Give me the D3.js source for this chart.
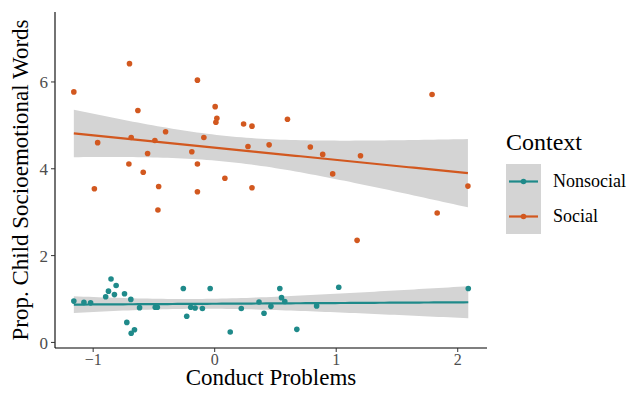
<!DOCTYPE html>
<html>
<head>
<meta charset="utf-8">
<script src="https://cdn.jsdelivr.net/npm/d3@7"></script>
<style>
  body { margin: 0; background: #fff; }
  svg { display: block; font-family: "Liberation Serif", "DejaVu Serif", serif; }
</style>
</head>
<body>
<div id="chart"></div>
<script>
// Conduct Problems (x) vs Prop. Child Socioemotional Words (y)
const socialX = [-1.155, -0.697, -0.138, -0.628, 0.008, 0.022, 0.014, 0.242, 0.311, -0.40,
  -0.683, -0.085, -0.959, -0.488, -0.548, -0.184, 0.278, 0.452, -0.702, -0.138,
  -0.584, 0.088, -0.986, -0.457, -0.138, 0.311, -0.463, 1.793, 0.603, 0.791,
  0.893, 1.204, 0.975, 2.088, 1.835, 1.176]
const socialY = [5.76, 6.41, 6.03, 5.33, 5.42, 5.15, 5.06, 5.02, 4.97, 4.84,
  4.71, 4.71, 4.59, 4.64, 4.34, 4.38, 4.50, 4.54, 4.10, 4.10,
  3.91, 3.77, 3.53, 3.58, 3.46, 3.55, 3.04, 5.70, 5.13, 4.49,
  4.32, 4.29, 3.87, 3.59, 2.97, 2.34]

const nonsocialX = [-1.155, -1.072, -1.017, -0.849, -0.807, -0.870, -0.893, -0.821, -0.738, -0.686,
  -0.614, -0.719, -0.656, -0.683, -0.485, -0.468, -0.254, -0.033, -0.226, -0.193,
  -0.157, -0.097, 0.132, 0.223, 0.369, 0.41, 0.467, 0.54, 0.554, 0.581,
  0.68, 0.843, 1.025, 2.091]
const nonsocialY = [0.94, 0.91, 0.90, 1.45, 1.30, 1.17, 1.04, 1.09, 1.11, 0.98,
  0.79, 0.45, 0.28, 0.20, 0.80, 0.80, 1.23, 1.23, 0.59, 0.80,
  0.78, 0.77, 0.23, 0.77, 0.92, 0.66, 0.82, 1.23, 1.02, 0.93,
  0.29, 0.83, 1.26, 1.23]

const groups = ["Nonsocial", "Social"]
const groupColors = ["#1f8a8a", "#d2581f"]
const xTicks = [-1, 0, 1, 2]
const yTicks = [0, 2, 4, 6]

const width = 630
const height = 393
const marginLeft = 55
const marginRight = 143
const marginTop = 12
const marginBottom = 45

const series = [
  { name: groups[0], color: groupColors[0], pts: nonsocialX.map((x, i) => ({ x, y: nonsocialY[i] })) },
  { name: groups[1], color: groupColors[1], pts: socialX.map((x, i) => ({ x, y: socialY[i] })) },
]

// linear fit with 95% confidence band, like geom_smooth(method = "lm")
function lmBand(pts, steps) {
  const n = pts.length
  const mx = d3.mean(pts, d => d.x)
  const my = d3.mean(pts, d => d.y)
  const sxx = d3.sum(pts, d => (d.x - mx) ** 2)
  const sxy = d3.sum(pts, d => (d.x - mx) * (d.y - my))
  const b = sxy / sxx
  const a = my - b * mx
  const sse = d3.sum(pts, d => (d.y - a - b * d.x) ** 2)
  const s = Math.sqrt(sse / (n - 2))
  const t = 2.03
  const [x0, x1] = d3.extent(pts, d => d.x)
  return d3.range(steps + 1).map(i => {
    const x = x0 + (x1 - x0) * i / steps
    const fit = a + b * x
    const se = s * Math.sqrt(1 / n + (x - mx) ** 2 / sxx)
    return { x, fit, lo: fit - t * se, hi: fit + t * se }
  })
}

const x = d3.scaleLinear()
  .domain([-1.31, 2.245])
  .range([marginLeft, width - marginRight])

const y = d3.scaleLinear()
  .domain([-0.14, 7.6])
  .range([height - marginBottom, marginTop])

const svg = d3.select("#chart").append("svg")
  .attr("width", width)
  .attr("height", height)
  .attr("viewBox", [0, 0, width, height])

const bandFill = "#d4d4d4"

// ribbons first, then points, then lines
series.forEach(s => {
  s.band = lmBand(s.pts, 80)
  svg.append("path")
    .datum(s.band)
    .attr("fill", bandFill)
    .attr("d", d3.area().x(d => x(d.x)).y0(d => y(d.lo)).y1(d => y(d.hi)))
})

series.forEach(s => {
  svg.append("g")
    .attr("fill", s.color)
    .selectAll("circle")
    .data(s.pts)
    .join("circle")
    .attr("cx", d => x(d.x))
    .attr("cy", d => y(d.y))
    .attr("r", 2.8)
})

series.forEach(s => {
  svg.append("path")
    .datum(s.band)
    .attr("fill", "none")
    .attr("stroke", s.color)
    .attr("stroke-width", 2.2)
    .attr("d", d3.line().x(d => x(d.x)).y(d => y(d.fit)))
})

// axes
const xAxis = svg.append("g")
  .attr("transform", `translate(0,${height - marginBottom})`)
  .call(d3.axisBottom(x).tickValues(xTicks).tickSize(4).tickPadding(2).tickFormat(d3.format("d")))
xAxis.select(".domain").attr("d", `M${marginLeft},0H${width - marginRight}`).attr("stroke", "#000").attr("stroke-width", 1.1)
xAxis.selectAll(".tick line").attr("stroke", "#333")
xAxis.selectAll(".tick text").attr("fill", "#4d4d4d").attr("font-size", 16).style("font-family", "Liberation Serif")

const yAxis = svg.append("g")
  .attr("transform", `translate(${marginLeft},0)`)
  .call(d3.axisLeft(y).tickValues(yTicks).tickSize(4).tickPadding(3))
yAxis.select(".domain").attr("d", `M0,${marginTop}V${height - marginBottom}`).attr("stroke", "#000").attr("stroke-width", 1.1)
yAxis.selectAll(".tick line").attr("stroke", "#333")
yAxis.selectAll(".tick text").attr("fill", "#4d4d4d").attr("font-size", 17).style("font-family", "Liberation Serif")
yAxis.selectAll(".tick text").attr("dy", "0.36em")

svg.append("text")
  .attr("x", 271)
  .attr("y", 385)
  .attr("text-anchor", "middle")
  .attr("font-size", 23)
  .text("Conduct Problems")

svg.append("text")
  .attr("transform", `translate(28,${(marginTop + height - marginBottom) / 2}) rotate(-90)`)
  .attr("text-anchor", "middle")
  .attr("font-size", 23)
  .text("Prop. Child Socioemotional Words")

// legend
const legend = svg.append("g").attr("transform", "translate(506,128)")
legend.append("text")
  .attr("x", 0)
  .attr("y", 22)
  .attr("font-size", 24)
  .text("Context")

groups.forEach((g, i) => {
  const row = legend.append("g").attr("transform", `translate(0,${36 + i * 35})`)
  row.append("rect").attr("width", 35).attr("height", 35).attr("fill", bandFill)
  row.append("line")
    .attr("x1", 3).attr("x2", 32).attr("y1", 17.5).attr("y2", 17.5)
    .attr("stroke", groupColors[i]).attr("stroke-width", 2.2)
  row.append("circle").attr("cx", 17.5).attr("cy", 17.5).attr("r", 2.8).attr("fill", groupColors[i])
  row.append("text")
    .attr("x", 47)
    .attr("y", 23)
    .attr("font-size", 18)
    .text(g)
})
</script>
</body>
</html>
